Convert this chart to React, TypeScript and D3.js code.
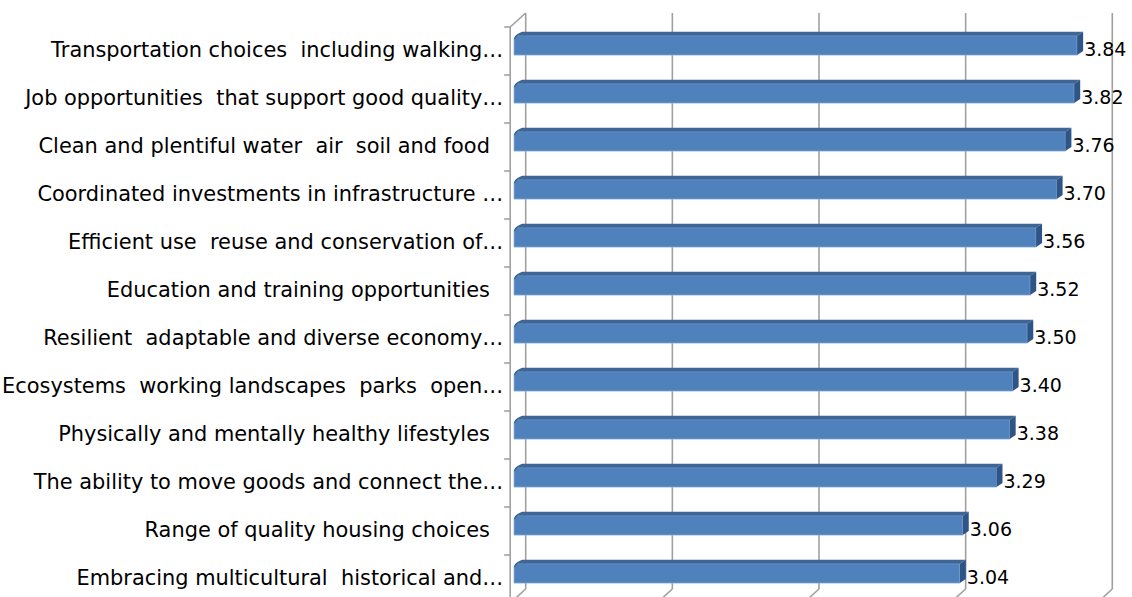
import React from "react";
import { scaleBand, scaleLinear } from "d3";

const categories = [
  "Transportation choices  including walking…",
  "Job opportunities  that support good quality…",
  "Clean and plentiful water  air  soil and food  ",
  "Coordinated investments in infrastructure …",
  "Efficient use  reuse and conservation of…",
  "Education and training opportunities  ",
  "Resilient  adaptable and diverse economy…",
  "Ecosystems  working landscapes  parks  open…",
  "Physically and mentally healthy lifestyles  ",
  "The ability to move goods and connect the…",
  "Range of quality housing choices  ",
  "Embracing multicultural  historical and…",
];
const values = [3.84, 3.82, 3.76, 3.7, 3.56, 3.52, 3.5, 3.4, 3.38, 3.29, 3.06, 3.04];
const xTicks = [0, 1, 2, 3, 4];

const width = 1132;
const height = 597;

// 3d look: back wall is offset from front wall by depth vector
const depth = { dx: 15.5, dy: -14 };
const barDepth = { dx: 6, dy: -4 };
const barShift = -11.7; // bars sit in the middle of the depth

export default function App() {
  // back wall scale
  const x = scaleLinear().domain([0, 4]).range([525.7, 1112.3]);
  // front wall bands
  const y = scaleBand<string>().domain(categories).range([27, 603]).paddingInner(0);

  const backTop = 27 + depth.dy;
  const backBottom = 603 + depth.dy;
  const frontX = x(0) - depth.dx;

  const font = "'DejaVu Sans', 'Liberation Sans', sans-serif";

  return (
    <svg
      width={width}
      height={height}
      style={{ position: "absolute", left: 0, top: 0, background: "white" }}
    >
      {/* back wall gridlines + floor lines */}
      <g stroke="#a0a0a0" strokeWidth={1.6} fill="none">
        {xTicks.map((t) => (
          <g key={t}>
            <line x1={x(t)} x2={x(t)} y1={backTop} y2={backBottom} />
            <line x1={x(t)} y1={backBottom} x2={x(t) - depth.dx} y2={backBottom - depth.dy} />
          </g>
        ))}
        {/* left wall */}
        <line x1={frontX} x2={frontX} y1={27} y2={height} />
        <line x1={frontX} y1={27} x2={x(0)} y2={backTop} />
        {categories.map((c) => (
          <line key={c} x1={frontX - 6} x2={frontX} y1={y(c)!} y2={y(c)!} />
        ))}
      </g>

      {/* bars */}
      {categories.map((c, i) => {
        const v = values[i];
        const x0 = x(0) + barShift;
        const x1 = x(v) + barShift;
        const top = y(c)! + 8.7;
        const h = 19.4;
        const r = 4;
        const topFace = `M${x0},${top + r} Q${x0},${top} ${x0 + r},${top - 2} L${x0 + barDepth.dx + 2},${top + barDepth.dy} L${x1 + barDepth.dx},${top + barDepth.dy} L${x1},${top} L${x0 + r},${top} Z`;
        const side = `M${x1},${top} L${x1 + barDepth.dx},${top + barDepth.dy} L${x1 + barDepth.dx},${top + h + barDepth.dy} L${x1},${top + h} Z`;
        return (
          <g key={c}>
            <path
              d={`M${x0},${top + r} Q${x0},${top} ${x0 + r},${top} L${x1},${top} L${x1},${top + h} L${x0},${top + h} Z`}
              fill="#4f81bd"
              stroke="#8fb0d8"
              strokeWidth={0.8}
            />
            <path d={topFace} fill="#3d6595" />
            <path d={side} fill="#2f5587" />
            <text
              x={x1 + barDepth.dx + 1}
              y={top + h + 0.5}
              fontFamily={font}
              fontSize={19}
              fill="#000"
            >
              {v.toFixed(2)}
            </text>
            <text
              x={frontX - 7}
              y={top + h + 1.8}
              textAnchor="end"
              fontFamily={font}
              fontSize={20.9}
              fill="#000"
              style={{ whiteSpace: "pre" }}
            >
              {c}
            </text>
          </g>
        );
      })}
    </svg>
  );
}
